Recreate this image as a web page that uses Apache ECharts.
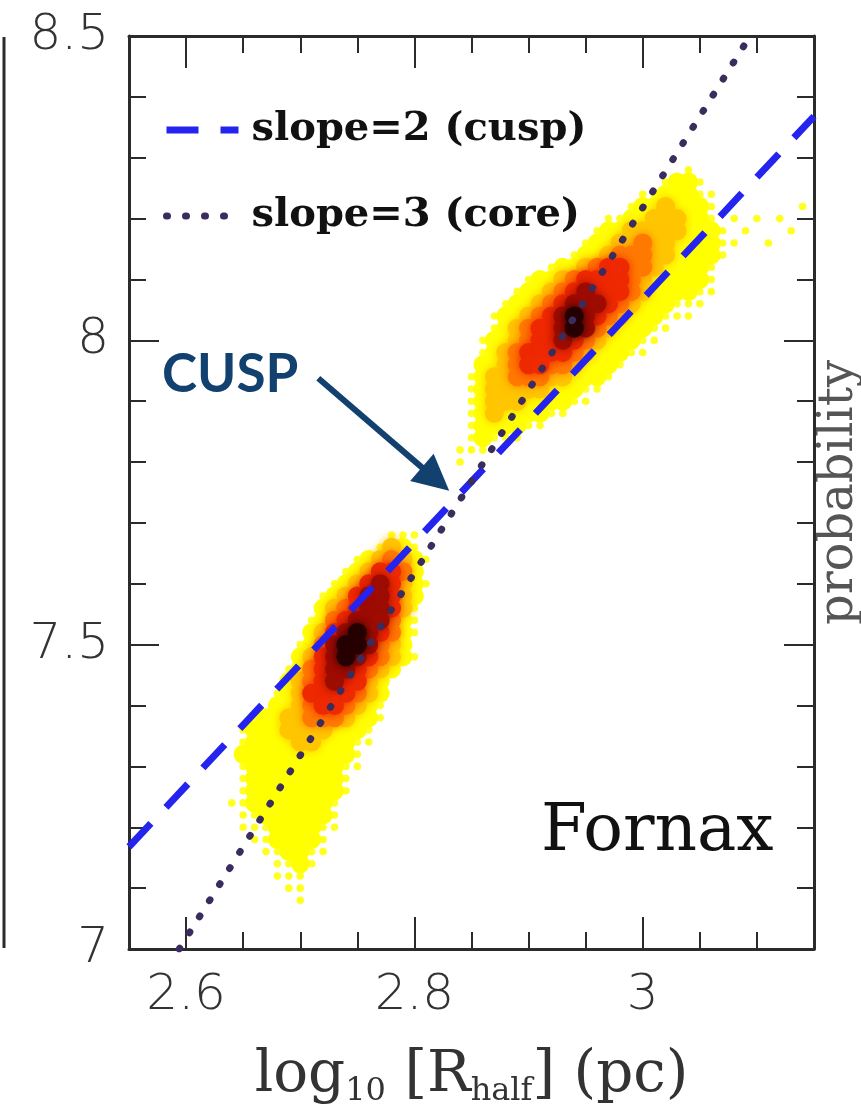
<!DOCTYPE html>
<html>
<head>
<meta charset="utf-8">
<script src="https://cdn.jsdelivr.net/npm/echarts@6/dist/echarts.min.js"></script>
<style>
  html, body { margin: 0; padding: 0; background: #ffffff; }
  #chart { width: 861px; height: 1109px; }
</style>
</head>
<body>
<div id="chart"></div>
<script>
// Axis ranges and tick positions
const xRange = [2.55, 3.15];
const yRange = [7.0, 8.5];
const xMajorTicks = [2.6, 2.8, 3.0];
const xMinorTicks = [2.65, 2.7, 2.75, 2.85, 2.9, 2.95, 3.05, 3.1];
const yMajorStep = 0.5;
const yMinorSplit = 5;

// Reference scaling relations (end points inside the frame)
const cuspLine = [[2.55, 7.168], [3.15, 8.368]];   // slope = 2
const coreLine = [[2.594, 7.0], [3.094, 8.5]];     // slope = 3

// Annotation arrow: from the "CUSP" label towards the crossing of the two relations
const cuspArrow = [[2.7158, 7.9377], [2.8185, 7.772]];

// Posterior density of (log10 Rhalf, log10 M) on a 0.01 x 0.02 grid.
// Each row: [log10 M, first log10 Rhalf, density level per cell (0 = empty ... 7 = peak)]
const cellSize = [0.01, 0.02];
const lowerModeRows = [
  [7.68, 2.78, '111'],
  [7.66, 2.77, '1321'],
  [7.64, 2.75, '1234321'],
  [7.62, 2.74, '1235542'],
  [7.60, 2.73, '123565321'],
  [7.58, 2.72, '123566532'],
  [7.56, 2.72, '234566531'],
  [7.54, 2.71, '1245666421'],
  [7.52, 2.71, '2356765421'],
  [7.50, 2.70, '1246776432'],
  [7.48, 2.70, '23567654321'],
  [7.46, 2.69, '1245665432'],
  [7.44, 2.69, '234565532'],
  [7.42, 2.68, '1235555432'],
  [7.40, 2.68, '2234554321'],
  [7.38, 2.66, '122334443221'],
  [7.36, 2.65, '122233332221'],
  [7.34, 2.65, '122223322211'],
  [7.32, 2.65, '22222222221'],
  [7.30, 2.65, '12222222211'],
  [7.28, 2.65, '1222222221'],
  [7.26, 2.65, '1222222221'],
  [7.24, 2.64, '1122222221'],
  [7.22, 2.65, '112222221'],
  [7.20, 2.65, '111222211'],
  [7.18, 2.66, '1122221'],
  [7.16, 2.67, '112211'],
  [7.14, 2.68, '1121'],
  [7.12, 2.68, '111'],
  [7.10, 2.69, '11'],
  [7.08, 2.70, '1']
];
const upperModeRows = [
  [8.28, 3.04, '1'],
  [8.26, 3.02, '1221'],
  [8.24, 3.00, '1122211'],
  [8.22, 2.99, '1223222100000001'],
  [8.20, 2.97, '1122333221010101'],
  [8.18, 2.96, '122333332221010001'],
  [8.16, 2.95, '12233433222211001'],
  [8.14, 2.94, '12234443322221'],
  [8.12, 2.92, '122345544322221'],
  [8.10, 2.90, '12234555543222221'],
  [8.08, 2.89, '122345655543222211'],
  [8.06, 2.88, '122345666543222111'],
  [8.04, 2.87, '122345676543222111'],
  [8.02, 2.87, '1234556764322211'],
  [8.00, 2.86, '1223455654322211'],
  [7.98, 2.86, '123455554322211'],
  [7.96, 2.86, '2234554432221'],
  [7.94, 2.85, '1233444332221'],
  [7.92, 2.85, '123333322211'],
  [7.90, 2.85, '12333222211'],
  [7.88, 2.85, '123222211'],
  [7.86, 2.85, '1222211'],
  [7.84, 2.85, '12111'],
  [7.82, 2.84, '111'],
  [7.80, 2.84, '1']
];

// Colour for each density level
const levelColors = ['', '#ffff22', '#ffff00', '#ffc600', '#ff7a00', '#ee2a00', '#9e0c00', '#260000'];

function expandRows(rows) {
  const out = [];
  rows.forEach(function (row) {
    const y = row[0], x0 = row[1], s = row[2];
    for (let i = 0; i < s.length; i++) {
      const lv = +s[i];
      if (lv > 0) out.push([+(x0 + i * cellSize[0]).toFixed(3), y, lv]);
    }
  });
  return out;
}
const densityCells = expandRows(lowerModeRows).concat(expandRows(upperModeRows))
  .sort(function (a, b) { return a[2] - b[2]; });

const ink = '#2b2b2b';
const frameLine = { color: ink, width: 3 };
const tickLine = { color: ink, width: 2 };
const numberFont = { fontFamily: 'DejaVu Sans', fontWeight: 200, fontSize: 50, color: '#333333' };

function xAxisPart(position, ticks, len, extra) {
  return Object.assign({
    type: 'value', position: position, min: xRange[0], max: xRange[1],
    axisLine: { show: false },
    axisTick: { show: true, inside: true, length: len, customValues: ticks, lineStyle: tickLine },
    axisLabel: { show: false },
    splitLine: { show: false }
  }, extra || {});
}
function yAxisPart(position, extra) {
  return Object.assign({
    type: 'value', position: position, min: yRange[0], max: yRange[1], interval: yMajorStep,
    axisLine: { show: true, onZero: false, lineStyle: frameLine },
    axisTick: { show: true, inside: true, length: 30, lineStyle: tickLine },
    minorTick: { show: true, splitNumber: yMinorSplit, length: 17, lineStyle: tickLine },
    axisLabel: { show: false },
    splitLine: { show: false }
  }, extra || {});
}

const chart = echarts.init(document.getElementById('chart'), null, { renderer: 'canvas' });
chart.setOption({
  animation: false,
  backgroundColor: '#ffffff',
  grid: { left: 129, right: 47, top: 36, bottom: 160, containLabel: false, outerBoundsMode: 'none' },
  title: [
    { text: 'CUSP', left: 162, top: 348, padding: 0,
      textStyle: { fontFamily: 'Lato', fontWeight: 'bold', fontSize: 53, color: '#12406f' } },
    { text: 'Fornax', left: 541, top: 800, padding: 0,
      textStyle: { fontFamily: 'DejaVu Serif', fontWeight: 'normal', fontSize: 66, color: '#111111' } }
  ],
  legend: {
    orient: 'vertical', left: 163, top: 108, padding: 0,
    itemWidth: 72, itemHeight: 20, itemGap: 42,
    data: ['slope=2 (cusp)', 'slope=3 (core)'],
    itemStyle: { opacity: 0 },
    lineStyle: { width: 7 },
    textStyle: { fontFamily: 'DejaVu Serif', fontWeight: 'bold', fontSize: 40, lineHeight: 44,
      color: '#111111', padding: [0, 0, 0, 8] }
  },
  graphic: [
    { type: 'line', shape: { x1: 4, y1: 37, x2: 4, y2: 948 }, style: { stroke: ink, lineWidth: 3 }, silent: true }
  ],
  xAxis: [
    xAxisPart('bottom', xMajorTicks, 32, {
      axisLine: { show: true, onZero: false, lineStyle: frameLine },
      axisLabel: Object.assign({ show: true, customValues: xMajorTicks, margin: 22,
        formatter: function (v) { return String(v); } }, numberFont),
      name: '{n|log}{s|10}{n| [R}{s|half}{n|] (pc)}',
      nameLocation: 'middle', nameGap: 95,
      nameTextStyle: {
        rich: {
          n: { fontFamily: 'DejaVu Serif', fontSize: 58, color: '#333333', lineHeight: 64, verticalAlign: 'middle' },
          s: { fontFamily: 'DejaVu Serif', fontSize: 32, color: '#333333', lineHeight: 64, verticalAlign: 'middle', padding: [32, 0, 0, 0] }
        }
      }
    }),
    xAxisPart('bottom', xMinorTicks, 17),
    xAxisPart('top', xMajorTicks, 32, { axisLine: { show: true, onZero: false, lineStyle: frameLine } }),
    xAxisPart('top', xMinorTicks, 17)
  ],
  yAxis: [
    yAxisPart('left', {
      axisLabel: Object.assign({ show: true, margin: 20, formatter: function (v) { return String(v); } }, numberFont)
    }),
    yAxisPart('right', {
      name: 'probability', nameLocation: 'middle', nameRotate: 90, nameGap: 2,
      nameTextStyle: { fontFamily: 'DejaVu Serif', fontSize: 48, color: '#555555' }
    })
  ],
  series: [
    {
      type: 'custom',
      name: 'density',
      coordinateSystem: 'cartesian2d',
      xAxisIndex: 0, yAxisIndex: 0,
      data: densityCells,
      encode: { x: 0, y: 1 },
      clip: true,
      silent: true,
      z: 1,
      renderItem: function (params, api) {
        const lv = api.value(2);
        const c = api.coord([api.value(0), api.value(1)]);
        const s = api.size(cellSize);
        const color = levelColors[lv];
        if (lv === 1) {
          return { type: 'circle', shape: { cx: c[0], cy: c[1], r: 3.8 }, style: { fill: color } };
        }
        const r = Math.max(s[0], s[1]) * 0.78;
        return {
          type: 'circle',
          shape: { cx: c[0], cy: c[1], r: r },
          style: { fill: color, shadowBlur: lv >= 3 ? 10 : 0, shadowColor: color }
        };
      }
    },
    {
      type: 'line',
      name: 'slope=2 (cusp)',
      xAxisIndex: 0, yAxisIndex: 0,
      data: cuspLine,
      symbol: 'none',
      z: 4,
      lineStyle: { color: '#2424ee', width: 7, type: [32, 22], cap: 'butt' }
    },
    {
      type: 'line',
      name: 'slope=3 (core)',
      xAxisIndex: 0, yAxisIndex: 0,
      data: coreLine,
      symbol: 'none',
      z: 4,
      lineStyle: { color: '#3a2c5c', width: 7, type: [1, 18], cap: 'round' }
    },
    {
      type: 'line',
      name: 'arrow',
      xAxisIndex: 0, yAxisIndex: 0,
      data: [],
      z: 5,
      markLine: {
        silent: true,
        animation: false,
        symbol: ['none', 'triangle'],
        symbolSize: 36,
        label: { show: false },
        lineStyle: { color: '#12406f', width: 6, type: 'solid' },
        data: [[{ coord: cuspArrow[0] }, { coord: cuspArrow[1] }]]
      }
    }
  ]
});
</script>
</body>
</html>
